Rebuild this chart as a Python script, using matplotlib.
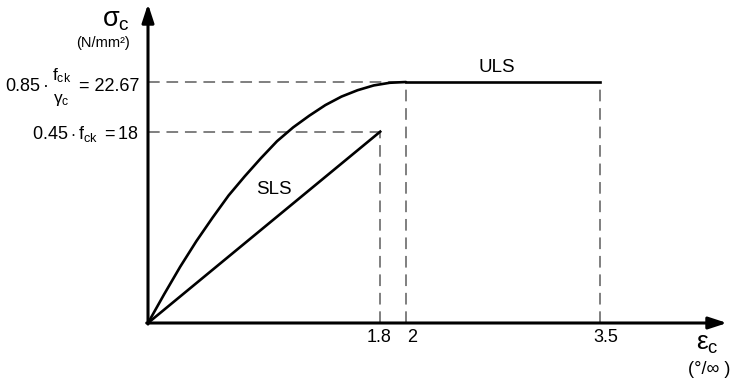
import matplotlib.pyplot as plt

plt.rcParams['font.family'] = ['Liberation Sans', 'DejaVu Sans']
plt.rcParams['mathtext.fontset'] = 'custom'
plt.rcParams['mathtext.rm'] = 'Liberation Sans'
plt.rcParams['mathtext.it'] = 'Liberation Sans'
plt.rcParams['mathtext.bf'] = 'Liberation Sans:bold'

# ULS parabola (strain in per mille, stress in N/mm2)
eps_uls = [0, 0.125, 0.25, 0.375, 0.5, 0.625, 0.75, 0.875, 1.0, 1.125,
           1.25, 1.375, 1.5, 1.625, 1.75, 1.875, 2.0]
sig_uls = [0, 2.7, 5.3, 7.7, 9.9, 12.0, 13.8, 15.5, 17.1, 18.4,
           19.5, 20.5, 21.3, 21.9, 22.35, 22.6, 22.67]
eps_plateau = [2.0, 3.5]
sig_plateau = [22.67, 22.67]

# SLS linear branch
eps_sls = [0, 1.8]
sig_sls = [0, 18]

# reference levels and ticks
sig_design = 22.67
sig_sls_max = 18
x_ticks = [1.8, 2, 3.5]
x_tick_labels = ['1.8', '2', '3.5']

# pixel scale of the original drawing
px_x = 129.0
px_y = 10.63


def dx(px):
    return (px - 148) / px_x


def dy(py):
    return (323 - py) / px_y


fig = plt.figure(figsize=(7.35, 3.8), dpi=100)
ax = fig.add_axes([0, 0, 1, 1])
ax.set_xlim(dx(0), dx(735))
ax.set_ylim(dy(380), dy(0))
ax.axis('off')

dash_kw = dict(color='#7f7f7f', lw=1.4, dashes=(6, 3.5), zorder=1)

# guide lines
ax.plot([0, eps_plateau[0]], [sig_design, sig_design], **dash_kw)
ax.plot([0, eps_sls[1]], [sig_sls_max, sig_sls_max], **dash_kw)
ax.plot([eps_sls[1], eps_sls[1]], [0, sig_sls_max], **dash_kw)
ax.plot([eps_plateau[0], eps_plateau[0]], [0, sig_design], **dash_kw)
ax.plot([eps_plateau[1], eps_plateau[1]], [0, sig_design], **dash_kw)

# curves
ax.plot(eps_uls, sig_uls, color='black', lw=1.9, solid_capstyle='round', zorder=3)
ax.plot(eps_plateau, sig_plateau, color='black', lw=1.9, zorder=3)
ax.plot(eps_sls, sig_sls, color='black', lw=1.9, zorder=3)

# axes with arrows
arrow_kw = dict(arrowstyle='-|>,head_length=1.1,head_width=0.36', color='black',
                lw=2.2, mutation_scale=10, shrinkA=0, shrinkB=0)
ax.annotate('', xy=(0, dy(4)), xytext=(0, -0.1), arrowprops=arrow_kw, zorder=4)
ax.annotate('', xy=(dx(727), 0), xytext=(-0.01, 0), arrowprops=arrow_kw, zorder=4)

# y-axis title
ax.text(dx(116), dy(20), r'$\sigma_{\mathrm{c}}$', fontsize=19.5, ha='center', va='center')
ax.text(dx(103), dy(43), '(N/mm²)', fontsize=10.5, ha='center', va='center')

# design stress label, built from pieces (fraction has no bar)
base1 = dy(91)
ax.text(dx(5), base1, '0.85', fontsize=13, ha='left', va='baseline')
ax.text(dx(46), base1, '·', fontsize=13, ha='center', va='baseline')
ax.text(dx(52), dy(80), r'$\mathrm{f}_{\mathrm{ck}}$', fontsize=12.5, ha='left', va='baseline')
ax.text(dx(53), dy(103), r'$\gamma_{\mathrm{c}}$', fontsize=12.5, ha='left', va='baseline')
ax.text(dx(139), base1, '= 22.67', fontsize=13, ha='right', va='baseline')

# SLS limit label
ax.text(dx(139), dy(139), r'$0.45\cdot\mathrm{f}_{\mathrm{ck}}\ =18$',
        fontsize=13, ha='right', va='baseline')

# x ticks
ax.text(x_ticks[0] - 0.01, dy(342), x_tick_labels[0], fontsize=13, ha='center', va='baseline')
ax.text(x_ticks[1] + 0.01, dy(342), x_tick_labels[1], fontsize=13, ha='left', va='baseline')
ax.text(x_ticks[2] + 0.05, dy(342), x_tick_labels[2], fontsize=13, ha='center', va='baseline')

# x-axis title
ax.text(dx(707), dy(344), r'$\varepsilon_{\mathrm{c}}$', fontsize=19, ha='center', va='center')
ax.text(dx(709), dy(369), '(°/∞ )', fontsize=13, ha='center', va='center')

ax.text(dx(497), dy(68), 'ULS', fontsize=13.5, ha='center', va='center')
ax.text(dx(274), dy(189), 'SLS', fontsize=13.5, ha='center', va='center')

plt.savefig('out.png', dpi=100)
